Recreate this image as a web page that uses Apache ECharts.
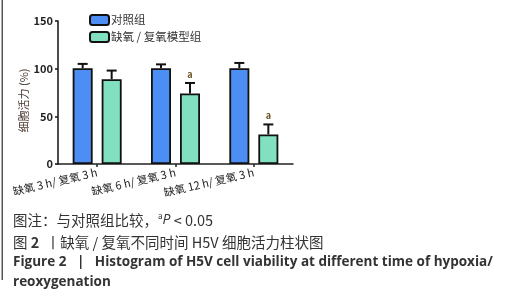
<!DOCTYPE html>
<html><head><meta charset="utf-8">
<script src="https://cdn.jsdelivr.net/npm/echarts@6/dist/echarts.min.js"></script>
<style>html,body{margin:0;padding:0;background:#fff}#c{width:505px;height:300px}</style>
</head><body><div id="c"></div>
<script>
const categories = ['缺氧 3 h/ 复氧 3 h', '缺氧 6 h/ 复氧 3 h', '缺氧 12 h/ 复氧 3 h'];
const controlValues = [100.5, 100.5, 100.5];
const controlErr = [4.5, 4, 5.5];
const modelValues = [89, 74, 31];
const modelErr = [9, 11, 10.5];
const modelSig = ['', 'a', 'a'];
const yTicks = [0, 50, 100, 150];
const seriesNames = ['对照组', '缺氧 / 复氧模型组'];

const FONT = '"Noto Sans CJK SC","Noto Sans",sans-serif';
const BAR_W = 20, HALF = 14.5;

function errSeries(vals, errs, sign, sig) {
  return {
    type: 'custom', z: 5, silent: true,
    data: vals.map((v, i) => [i, v, v + errs[i], sig ? sig[i] : '']),
    renderItem: function (params, api) {
      const base = api.coord([api.value(0), api.value(1)]);
      const top = api.coord([api.value(0), api.value(2)]);
      const x = base[0] + sign * HALF;
      const children = [
        {type: 'line', shape: {x1: x, y1: base[1], x2: x, y2: top[1]}, style: {stroke: '#111', lineWidth: 2}},
        {type: 'line', shape: {x1: x - 5, y1: top[1], x2: x + 5, y2: top[1]}, style: {stroke: '#111', lineWidth: 2}}
      ];
      const s = api.value(3);
      if (s) children.push({type: 'text', style: {text: s, x: x, y: top[1] - 4, align: 'center', verticalAlign: 'bottom', fill: '#6a5020', font: 'bold 9px ' + FONT}});
      return {type: 'group', children: children};
    }
  };
}

const chart = echarts.init(document.getElementById('c'));
chart.setOption({
  animation: false,
  grid: {left: 58, right: 212, top: 21, bottom: 136},
  legend: {
    left: 84, top: 9, orient: 'vertical', itemWidth: 19, itemHeight: 10, itemGap: 5,
    textStyle: {fontSize: 11.5, color: '#333', fontFamily: FONT, padding: [0, 0, 0, -3]},
    data: seriesNames
  },
  xAxis: {
    type: 'category', data: categories,
    axisLine: {lineStyle: {color: '#222', width: 1.5}},
    axisTick: {show: true, alignWithLabel: true, length: 3, lineStyle: {color: '#222', width: 1.5}},
    axisLabel: {rotate: 13, fontSize: 11, color: '#222', fontFamily: FONT, margin: 8, interval: 0}
  },
  yAxis: {
    type: 'value', min: yTicks[0], max: yTicks[yTicks.length - 1], interval: 50,
    name: '细胞活力 (%)', nameLocation: 'middle', nameGap: 26, nameRotate: 90,
    nameTextStyle: {fontSize: 11, color: '#4a3a30', fontFamily: FONT, padding: [0, 16, 0, 0]},
    axisLine: {show: true, lineStyle: {color: '#111', width: 1.5}},
    axisTick: {show: true, length: 3, lineStyle: {color: '#111', width: 1.5}},
    axisLabel: {fontSize: 11, color: '#222', fontWeight: 'bold', fontFamily: FONT, margin: 5},
    splitLine: {show: false}
  },
  series: [
    {name: seriesNames[0], type: 'bar', data: controlValues, barWidth: BAR_W, barGap: '45%',
     itemStyle: {color: '#4d8ef5', borderColor: '#111', borderWidth: 1.8}},
    {name: seriesNames[1], type: 'bar', data: modelValues, barWidth: BAR_W,
     itemStyle: {color: '#80e0c0', borderColor: '#111', borderWidth: 1.8}},
    errSeries(controlValues, controlErr, -1, null),
    errSeries(modelValues, modelErr, 1, modelSig)
  ],
  graphic: [
    {type: 'rect', shape: {x: 1.5, y: 0, width: 1.5, height: 280}, style: {fill: '#555'}},
    {type: 'text', style: {x: 13, y: 220, verticalAlign: 'middle',
      text: '{n|图注：与对照组比较，}{s|a}{i|P}{n| < 0.05}',
      rich: {
        n: {fontSize: 14.5, fill: '#333', fontFamily: FONT},
        s: {fontSize: 8, fill: '#333', fontFamily: FONT, padding: [0, 0, 8, 0]},
        i: {fontSize: 14, fill: '#333', fontStyle: 'italic', fontFamily: '"Open Sans",sans-serif'}
      }}},
    {type: 'text', style: {x: 13, y: 242, verticalAlign: 'middle',
      text: '{n|图 }{b|2}{n|  丨缺氧 / 复氧不同时间 H5V 细胞活力柱状图}',
      rich: {
        n: {fontSize: 14.5, fill: '#333', fontFamily: FONT},
        b: {fontSize: 14.5, fill: '#333', fontWeight: 'bold', fontFamily: FONT}
      }}},
    {type: 'text', style: {x: 13, y: 262, verticalAlign: 'middle',
      text: 'Figure 2   |   Histogram of H5V cell viability at different time of hypoxia/',
      font: 'bold 13.5px "Open Sans",sans-serif', fill: '#333'}},
    {type: 'text', style: {x: 13, y: 282, verticalAlign: 'middle',
      text: 'reoxygenation', font: 'bold 13.5px "Open Sans",sans-serif', fill: '#333'}}
  ]
});
</script></body></html>
